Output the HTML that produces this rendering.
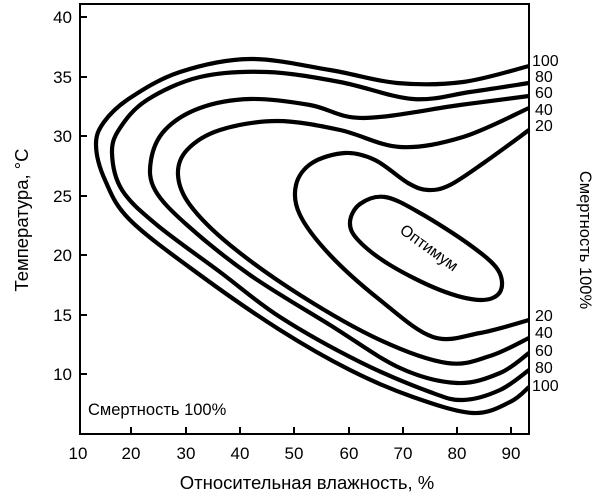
<!DOCTYPE html>
<html><head><meta charset="utf-8"><style>
body{margin:0;background:#fff}
svg{display:block;font-family:"Liberation Sans",sans-serif}
</style></head><body>
<svg id="s" width="604" height="502" viewBox="0 0 604 502">
<rect x="80" y="4" width="449" height="430" fill="none" stroke="#000" stroke-width="2"/>
<g stroke="#000" stroke-width="2">
<line x1="80" y1="17" x2="87" y2="17"/><line x1="80" y1="77" x2="87" y2="77"/><line x1="80" y1="136" x2="87" y2="136"/><line x1="80" y1="196" x2="87" y2="196"/><line x1="80" y1="255" x2="87" y2="255"/><line x1="80" y1="315" x2="87" y2="315"/><line x1="80" y1="374" x2="87" y2="374"/>
<line x1="131" y1="434" x2="131" y2="427"/><line x1="186" y1="434" x2="186" y2="427"/><line x1="240" y1="434" x2="240" y2="427"/><line x1="294" y1="434" x2="294" y2="427"/><line x1="349" y1="434" x2="349" y2="427"/><line x1="403" y1="434" x2="403" y2="427"/><line x1="457" y1="434" x2="457" y2="427"/><line x1="511" y1="434" x2="511" y2="427"/>
</g>
<g font-size="17" text-anchor="end" fill="#000">
<text x="72" y="23">40</text><text x="72" y="83">35</text><text x="72" y="142">30</text><text x="72" y="202">25</text><text x="72" y="261">20</text><text x="72" y="321">15</text><text x="72" y="380">10</text>
</g>
<g font-size="17" text-anchor="middle">
<text x="78" y="459">10</text><text x="131" y="459">20</text><text x="186" y="459">30</text><text x="240" y="459">40</text><text x="294" y="459">50</text><text x="349" y="459">60</text><text x="403" y="459">70</text><text x="457" y="459">80</text><text x="511" y="459">90</text>
<text x="307" y="489" font-size="18.5">Относительная влажность, %</text>
<text transform="translate(28,220) rotate(-90)" font-size="18.5">Температура, °C</text>
<text transform="translate(580,240) rotate(90)" font-size="16.5">Смертность 100%</text>
<text transform="translate(426,252) rotate(36)" font-size="16">Оптимум</text>
</g>
<text x="88" y="415" font-size="16.5">Смертность 100%</text>
<g font-size="16">
<text x="532" y="66">100</text><text x="535" y="82">80</text><text x="535" y="98">60</text><text x="535" y="115">40</text><text x="535" y="131">20</text>
<text x="535" y="321">20</text><text x="535" y="338">40</text><text x="535" y="356">60</text><text x="535" y="373">80</text><text x="532" y="391">100</text>
</g>
<g id="c" fill="none" stroke="#000" stroke-width="4.2" stroke-linejoin="round"></g>
</svg>
<script>
var curves=[
[[529,66],[463,82],[397,83],[330,70],[250,59],[180,72],[130,98],[104,122],[96,145],[105,180],[130,220],[200,275],[280,330],[350,370],[413,397],[473,413],[510,402],[529,387]],
[[529,83],[470,92],[413,99],[340,82],[267,72],[200,77],[147,100],[120,128],[112,153],[122,190],[157,225],[220,272],[280,317],[360,362],[430,392],[463,400],[500,390],[529,370]],
[[529,96],[460,105],[363,118],[310,105],[250,99],[200,108],[165,130],[151,160],[155,190],[187,225],[250,275],[330,325],[400,368],[457,383],[500,373],[529,353]],
[[529,108],[463,137],[400,147],[340,130],[277,121],[220,130],[187,150],[178,175],[190,205],[230,245],[300,295],[380,340],[447,363],[490,356],[529,338]],
[[529,130],[485,162],[450,185],[428,190],[408,183],[375,160],[345,153],[312,163],[296,185],[300,215],[330,255],[380,300],[433,337],[480,333],[529,320]]
];
var loop=[[350,222],[360,204],[385,197],[420,213],[470,245],[498,270],[500,292],[480,300],[440,290],[390,265],[358,240]];
function path(p,closed){
 var n=p.length,d="M"+p[0][0]+","+p[0][1];
 var g=function(i){if(closed)return p[(i+n)%n];return p[Math.max(0,Math.min(n-1,i))];};
 var m=closed?n:n-1;
 for(var i=0;i<m;i++){
  var p0=g(i-1),p1=g(i),p2=g(i+1),p3=g(i+2);
  d+=" C"+(p1[0]+(p2[0]-p0[0])/6)+","+(p1[1]+(p2[1]-p0[1])/6)+" "+(p2[0]-(p3[0]-p1[0])/6)+","+(p2[1]-(p3[1]-p1[1])/6)+" "+p2[0]+","+p2[1];
 }
 return d+(closed?"Z":"");
}
var g=document.getElementById("c"),h="";
curves.forEach(function(c){h+='<path d="'+path(c,false)+'"/>';});
h+='<path d="'+path(loop,true)+'"/>';
g.innerHTML=h;
</script>
</body></html>
